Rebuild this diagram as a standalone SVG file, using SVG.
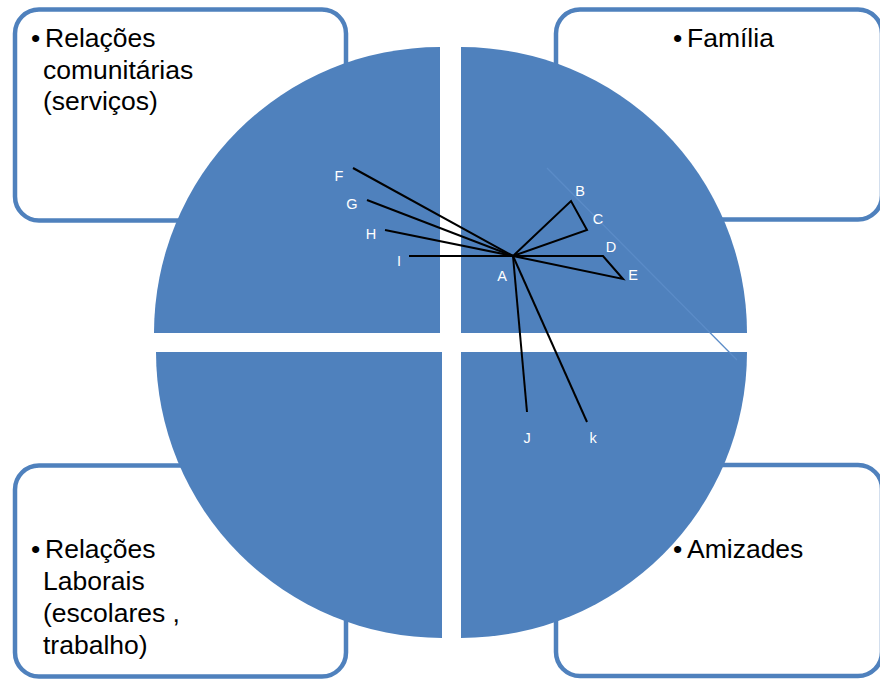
<svg xmlns="http://www.w3.org/2000/svg" width="880" height="679" viewBox="0 0 880 679">
<style>
.box{fill:#fff;stroke:#4F81BD;stroke-width:4.5}
.q{fill:#4F81BD}
.t{font-family:"Liberation Sans",Arial,sans-serif;font-size:26.5px;fill:#000}
.lbl{font-family:"Liberation Sans",Arial,sans-serif;font-size:14.5px;fill:#fff;text-anchor:middle}
.ln{stroke:#000;stroke-width:2;fill:none;stroke-linejoin:miter}
</style>
<rect width="880" height="679" fill="#fff"/>
<g id="box-comunitarias">
<rect class="box" x="15" y="9.5" width="331" height="211" rx="24"/>
<text class="t"><tspan x="31" y="47">•</tspan><tspan x="45" y="47">Relações</tspan><tspan x="43" y="79">comunitárias</tspan><tspan x="43" y="110">(serviços)</tspan></text>
</g>
<g id="box-familia">
<rect class="box" x="556" y="9.5" width="326" height="210" rx="24"/>
<text class="t"><tspan x="673" y="47">•</tspan><tspan x="687" y="47">Família</tspan></text>
</g>
<g id="box-laborais">
<rect class="box" x="15" y="465.5" width="331" height="211" rx="24"/>
<text class="t"><tspan x="31" y="558">•</tspan><tspan x="45" y="558">Relações</tspan><tspan x="43" y="590">Laborais</tspan><tspan x="43" y="622">(escolares ,</tspan><tspan x="43" y="654">trabalho)</tspan></text>
</g>
<g id="box-amizades">
<rect class="box" x="556" y="465" width="326" height="211" rx="24"/>
<text class="t"><tspan x="673" y="558">•</tspan><tspan x="687" y="558">Amizades</tspan></text>
</g>
<g id="quarters">
<path class="q" d="M440,333 L154,333 A286,286 0 0 1 440,47 Z"/>
<path class="q" d="M461,333 L461,47 A286,286 0 0 1 747,333 Z"/>
<path class="q" d="M442,352 L156,352 A286,286 0 0 0 442,638 Z"/>
<path class="q" d="M461,352 L747,352 A286,286 0 0 1 461,638 Z"/>
</g>
<g id="connectors">
<line x1="547" y1="168" x2="737" y2="360" stroke="#5B8CC8" stroke-width="1.3"/>
<line class="ln" x1="513" y1="256" x2="353" y2="168"/>
<line class="ln" x1="513" y1="256" x2="367" y2="200"/>
<line class="ln" x1="513" y1="256" x2="385" y2="230"/>
<line class="ln" x1="513" y1="256" x2="409" y2="256"/>
<polyline class="ln" points="513,256 571,201 587,230 513,256"/>
<polyline class="ln" points="513,256 603,256 623,279 513,256"/>
<line class="ln" x1="513" y1="256" x2="527" y2="412"/>
<line class="ln" x1="513" y1="256" x2="587" y2="422"/>
</g>
<g id="labels">
<text class="lbl" x="339" y="181">F</text>
<text class="lbl" x="352" y="209">G</text>
<text class="lbl" x="371" y="239">H</text>
<text class="lbl" x="399" y="266">I</text>
<text class="lbl" x="502" y="281">A</text>
<text class="lbl" x="580" y="196">B</text>
<text class="lbl" x="598" y="224">C</text>
<text class="lbl" x="611" y="252">D</text>
<text class="lbl" x="633" y="280">E</text>
<text class="lbl" x="527" y="443">J</text>
<text class="lbl" x="593" y="443">k</text>
</g>
</svg>
